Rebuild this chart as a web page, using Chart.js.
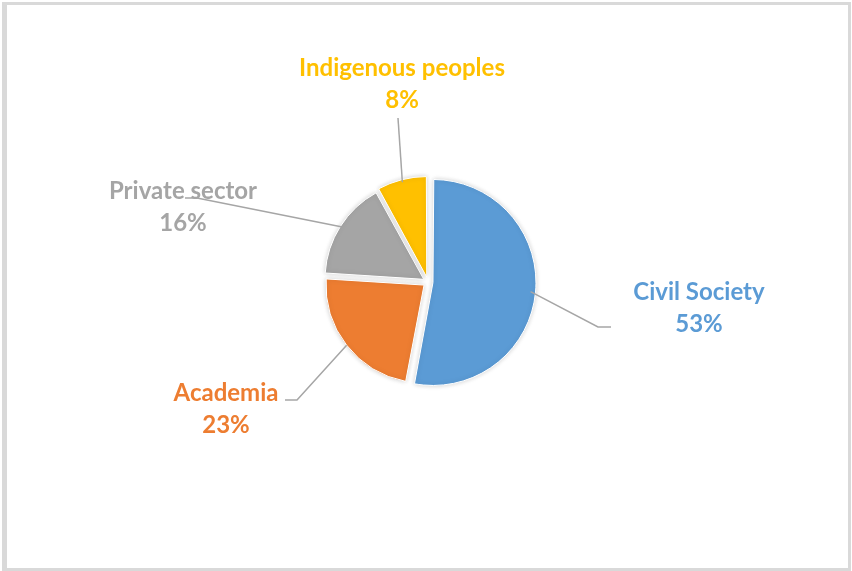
<!DOCTYPE html>
<html>
<head>
<meta charset="utf-8">
<script src="https://cdn.jsdelivr.net/npm/chart.js@4.4.0/dist/chart.umd.min.js"></script>
<style>
  html, body { margin: 0; padding: 0; background: #fff; }
  #wrap { position: relative; width: 852px; height: 571px; }
  #frame {
    position: absolute; left: 2px; top: 2px; width: 841px; height: 563px;
    border: 3px solid #d9d9d9; border-left-width: 5px; pointer-events: none;
  }
  canvas { position: absolute; left: 0; top: 0; }
</style>
</head>
<body>
<div id="wrap">
  <canvas id="g-sectors" width="852" height="571"></canvas>
  <div id="frame"></div>
</div>
<script>
const sectors = ['Civil Society', 'Academia', 'Private sector', 'Indigenous peoples'];
const shares = [53, 23, 16, 8];
const colores = ['#5B9BD5', '#ED7D31', '#A5A5A5', '#FFC000'];

// where each label sits, relative to the pie centre (text centre of first line,
// elbow of the leader line, and the short horizontal tail after the elbow)
const labelPos = [
    { tx: 271, ty: 10, ex: 170, ey: 45, tail: 13 },
    { tx: -202, ty: 111, ex: -131, ey: 118, tail: -12 },
    { tx: -245, ty: -91, ex: -231, ey: -84, tail: -12 },
    { tx: -26, ty: -214, ex: -30, ey: -164, tail: 0 }
];

const sliceLabels = {
    id: 'sliceLabels',
    beforeDatasetsDraw(chart) {
        const ctx = chart.ctx;
        ctx.save();
        ctx.shadowColor = 'rgba(0,0,0,0.18)';
        ctx.shadowBlur = 5;
    },
    afterDatasetsDraw(chart) {
        const ctx = chart.ctx;
        ctx.restore();
        const meta = chart.getDatasetMeta(0);
        const data = chart.data.datasets[0].data;
        meta.data.forEach((arc, i) => {
            const p = arc.getProps(['x', 'y', 'startAngle', 'endAngle', 'outerRadius'], true);
            const mid = (p.startAngle + p.endAngle) / 2;
            const off = (arc.options.offset || 0) / 4;
            const ax = p.x + Math.cos(mid) * (p.outerRadius + off);
            const ay = p.y + Math.sin(mid) * (p.outerRadius + off);
            const l = labelPos[i];
            const ex = p.x + l.ex, ey = p.y + l.ey;

            ctx.save();
            ctx.strokeStyle = '#A6A6A6';
            ctx.lineWidth = 1.5;
            ctx.beginPath();
            ctx.moveTo(ax, ay);
            ctx.lineTo(ex, ey);
            if (l.tail) ctx.lineTo(ex + l.tail, ey);
            ctx.stroke();

            ctx.fillStyle = colores[i];
            ctx.font = 'bold 24px Lato';
            ctx.textAlign = 'center';
            ctx.textBaseline = 'middle';
            ctx.fillText(chart.data.labels[i], p.x + l.tx, p.y + l.ty);
            ctx.fillText(data[i] + '%', p.x + l.tx, p.y + l.ty + 32);
            ctx.restore();
        });
    }
};

const ctx = document.getElementById('g-sectors').getContext('2d');
new Chart(ctx, {
    type: 'pie',
    data: {
        labels: sectors,
        datasets: [{
            data: shares,
            backgroundColor: colores,
            borderColor: '#ffffff',
            borderWidth: 1,
            offset: 20,
            radius: 98
        }]
    },
    options: {
        responsive: false,
        animation: false,
        layout: { padding: { left: 4, right: 0, top: 0, bottom: 7 } },
        plugins: {
            legend: { display: false },
            tooltip: { enabled: false }
        }
    },
    plugins: [sliceLabels]
});
</script>
</body>
</html>
